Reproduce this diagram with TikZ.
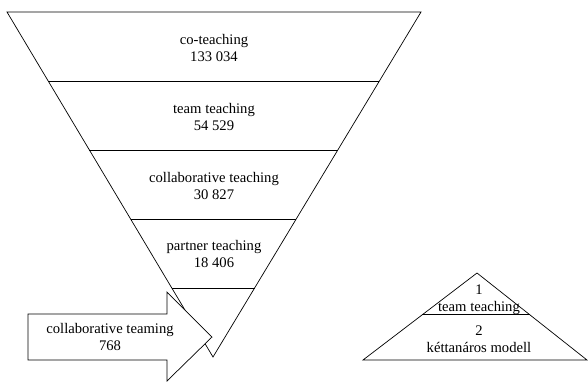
\documentclass[tikz,border=0pt]{standalone}
\usepackage{fontspec}
\setmainfont{Liberation Serif}
\usetikzlibrary{calc}
\begin{document}
\begin{tikzpicture}[x=0.03cm, y=-0.03cm, line width=0.6pt,
	label/.style={align=center, inner sep=0pt, font=\fontsize{12.5}{14.5}\selectfont}]
	\useasboundingbox (0,0) rectangle (588,381);
	
	% Funnel
	\coordinate (tl) at (7,12);
	\coordinate (tr) at (421,12);
	\coordinate (apex) at (213,357);
	\draw (tl) -- (tr) -- (apex) -- cycle;
	\foreach \t in {0.2,0.4,0.6,0.8}
		\draw ($(tl)!\t!(apex)$) -- ($(tr)!\t!(apex)$);
	
	% Funnel labels
	\node[label] (coteach) at (214,48) {co-teaching\\133 034};
	\node[label] (teamteach) at (214,117) {team teaching\\54 529};
	\node[label] (collab) at (214,186) {collaborative teaching\\30 827};
	\node[label] (partner) at (214,254) {partner teaching\\18 406};
	
	% Arrow
	\draw[fill=white] (28,314) -- (167,314) -- (167,292) -- (212,337)
		-- (167,381) -- (167,360) -- (28,360) -- cycle;
	\node[label] (teaming) at (110,337) {collaborative teaming\\768};
	
	% Small triangle
	\coordinate (top) at (477,273);
	\coordinate (bl) at (363,360);
	\coordinate (br) at (587,360);
	\draw (bl) -- (top) -- (br) -- cycle;
	\draw ($(top)!0.48!(bl)$) -- ($(top)!0.48!(br)$);
	\node[label] (one) at (479,300) {1\\team teaching};
	\node[label] (two) at (479,339) {2\\kéttanáros modell};
\end{tikzpicture}
\end{document}
